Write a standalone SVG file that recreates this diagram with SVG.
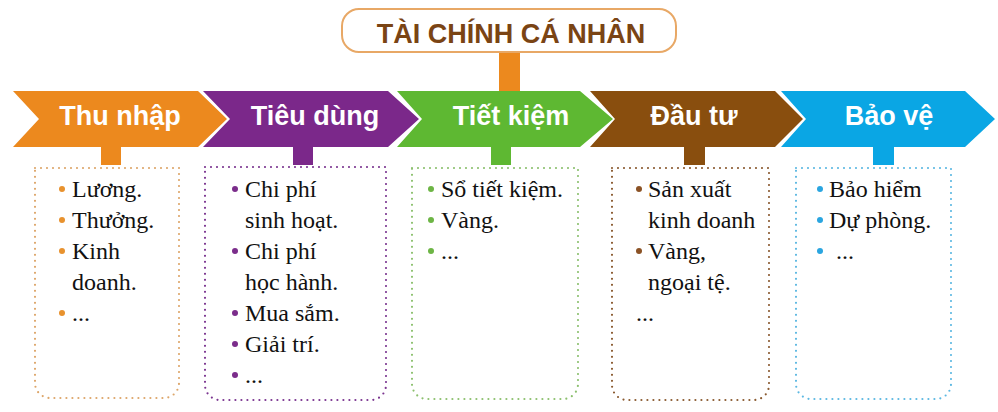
<svg xmlns="http://www.w3.org/2000/svg" width="998" height="412" viewBox="0 0 998 412">
<style>
.lbl{font-family:"Liberation Sans",Arial,sans-serif;font-weight:bold;font-size:27px;fill:#fff;text-anchor:middle}
.title{font-family:"Liberation Sans",Arial,sans-serif;font-weight:bold;font-size:27px;fill:#7A4414;text-anchor:middle}
.box{fill:none;stroke-width:2.2;stroke-dasharray:0 6;stroke-linecap:round}
</style>
<rect width="998" height="412" fill="#fff"/>
<g id="connectors">
  <rect x="499" y="51" width="21" height="40" fill="#EC891E"/>
  <rect x="101" y="146" width="20" height="19" fill="#EC891E"/>
  <rect x="293" y="146" width="20" height="19" fill="#7B288A"/>
  <rect x="491" y="146" width="20" height="19" fill="#5EB832"/>
  <rect x="684" y="146" width="21" height="19" fill="#894E0E"/>
  <rect x="873" y="146" width="21" height="19" fill="#0AA6E4"/>
</g>
<g id="title">
  <rect x="342" y="9" width="334" height="43" rx="17" fill="#fff" stroke="#E8A866" stroke-width="2"/>
  <text class="title" x="511" y="43">TÀI CHÍNH CÁ NHÂN</text>
</g>
<g font-family="Liberation Serif, Times New Roman, serif" font-size="24" fill="#111">
<g id="thu-nhap">
  <polygon points="13,91 198,91 227,119 198,147 13,147 39,119" fill="#EC891E"/>
  <text class="lbl" x="120" y="125">Thu nhập</text>
  <path class="box" stroke="#DDA66A" d="M35,168 H179 V383 A15,15 0 0 1 164,398 H50 A15,15 0 0 1 35,383 Z"/>
  <g fill="#E8922E"><circle cx="62" cy="189" r="3"/><circle cx="62" cy="220" r="3"/><circle cx="62" cy="251" r="3"/><circle cx="62" cy="313" r="3"/></g>
  <text x="72" y="197">Lương.</text>
  <text x="72" y="228">Thưởng.</text>
  <text x="72" y="259">Kinh</text>
  <text x="72" y="290">doanh.</text>
  <text x="72" y="321">...</text>
</g>
<g id="tieu-dung">
  <polygon points="203,91 388,91 419,119 388,147 203,147 230,119" fill="#7B288A"/>
  <text class="lbl" x="315" y="125">Tiêu dùng</text>
  <path class="box" stroke="#7B3590" d="M205,167 H386 V385 A15,15 0 0 1 371,400 H220 A15,15 0 0 1 205,385 Z"/>
  <g fill="#7B2D8B"><circle cx="235" cy="189" r="3"/><circle cx="235" cy="251" r="3"/><circle cx="235" cy="313" r="3"/><circle cx="235" cy="344" r="3"/><circle cx="235" cy="375" r="3"/></g>
  <text x="245" y="197">Chi phí</text>
  <text x="245" y="228">sinh hoạt.</text>
  <text x="245" y="259">Chi phí</text>
  <text x="245" y="290">học hành.</text>
  <text x="245" y="321">Mua sắm.</text>
  <text x="245" y="352">Giải trí.</text>
  <text x="245" y="383">...</text>
</g>
<g id="tiet-kiem">
  <polygon points="397,91 580,91 613,119 580,147 397,147 422,119" fill="#5EB832"/>
  <text class="lbl" x="511" y="125">Tiết kiệm</text>
  <path class="box" stroke="#8CC06E" d="M412,168 H578 V384 A15,15 0 0 1 563,399 H427 A15,15 0 0 1 412,384 Z"/>
  <g fill="#6DB545"><circle cx="431" cy="189" r="3"/><circle cx="431" cy="220" r="3"/><circle cx="431" cy="251" r="3"/></g>
  <text x="441" y="197">Sổ tiết kiệm.</text>
  <text x="441" y="228">Vàng.</text>
  <text x="441" y="259">...</text>
</g>
<g id="dau-tu">
  <polygon points="590,91 775,91 803,119 775,147 590,147 615,119" fill="#894E0E"/>
  <text class="lbl" x="694" y="125">Đầu tư</text>
  <path class="box" stroke="#8A5A30" d="M612,168 H769 V385 A15,15 0 0 1 754,400 H627 A15,15 0 0 1 612,385 Z"/>
  <g fill="#8B5225"><circle cx="639" cy="189" r="3"/><circle cx="639" cy="251" r="3"/></g>
  <text x="648" y="197">Sản xuất</text>
  <text x="648" y="228">kinh doanh</text>
  <text x="648" y="259">Vàng,</text>
  <text x="648" y="290">ngoại tệ.</text>
  <text x="636" y="321">...</text>
</g>
<g id="bao-ve">
  <polygon points="781,91 965,91 995,119 965,147 781,147 806,119" fill="#0AA6E4"/>
  <text class="lbl" x="889" y="125">Bảo vệ</text>
  <path class="box" stroke="#5CB8E2" d="M796,168 H951 V384 A15,15 0 0 1 936,399 H811 A15,15 0 0 1 796,384 Z"/>
  <g fill="#2AA5E0"><circle cx="820" cy="189" r="3"/><circle cx="820" cy="220" r="3"/><circle cx="820" cy="251" r="3"/></g>
  <text x="829" y="197">Bảo hiểm</text>
  <text x="829" y="228">Dự phòng.</text>
  <text x="836" y="259">...</text>
</g>
</g>
</svg>
